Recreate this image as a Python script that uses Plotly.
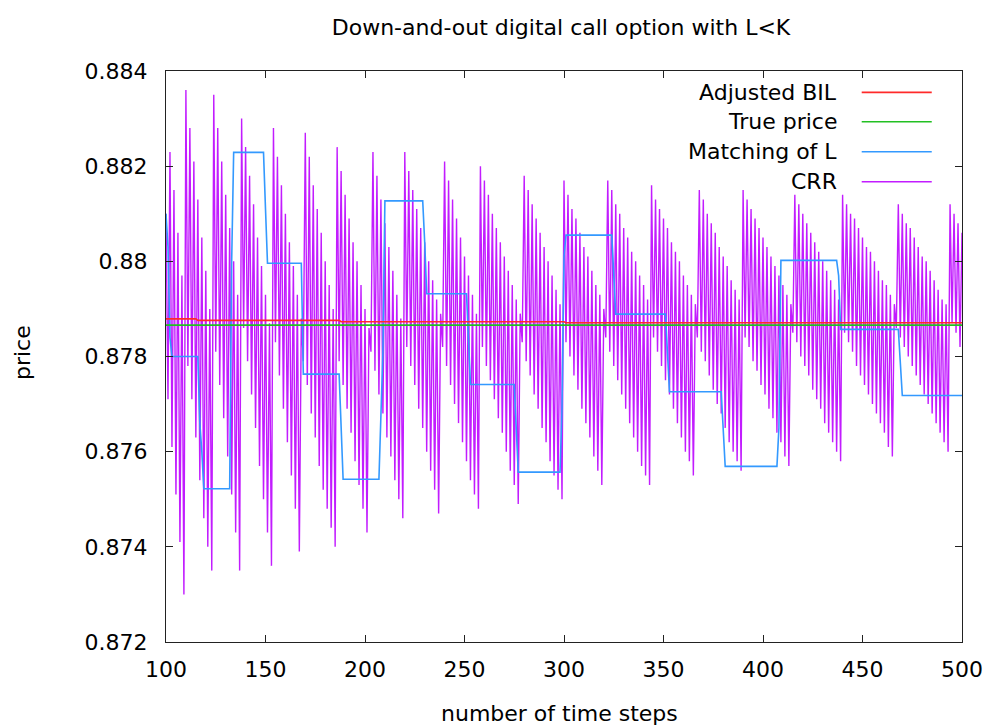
import plotly.graph_objects as go

# ---- data -------------------------------------------------------------
# number of time steps n = 100 ... 500
steps = list(range(100, 501))

# CRR binomial price for every n (even/odd oscillation inside each barrier cycle)
crr_price = [
    # 100-109
    0.8810, 0.8771, 0.8823, 0.8761, 0.8815, 0.8751, 0.8806, 0.8741, 0.8797, 0.8730,
    # 110-123
    0.8836, 0.8778, 0.8828, 0.8771, 0.8821, 0.8763, 0.8813, 0.8754, 0.8805, 0.8746,
    0.8798, 0.8740, 0.8790, 0.8735,
    # 124-137
    0.8835, 0.8781, 0.8828, 0.8774, 0.8821, 0.8767, 0.8814, 0.8759, 0.8807, 0.8751,
    0.8800, 0.8743, 0.8793, 0.8735,
    # 138-153
    0.8830, 0.8786, 0.8824, 0.8779, 0.8818, 0.8772, 0.8812, 0.8765, 0.8805, 0.8757,
    0.8799, 0.8750, 0.8793, 0.8743, 0.8787, 0.8736,
    # 154-168
    0.8828, 0.8783, 0.8822, 0.8776, 0.8816, 0.8769, 0.8810, 0.8762, 0.8804, 0.8755,
    0.8799, 0.8748, 0.8793, 0.8739, 0.8788,
    # 169-185
    0.8779, 0.8827, 0.8774, 0.8822, 0.8768, 0.8816, 0.8763, 0.8811, 0.8757, 0.8806,
    0.8752, 0.8800, 0.8748, 0.8795, 0.8744, 0.8790, 0.8740,
    # 186-202
    0.8824, 0.8779, 0.8819, 0.8774, 0.8814, 0.8769, 0.8809, 0.8764, 0.8804, 0.8758,
    0.8800, 0.8753, 0.8795, 0.8748, 0.8790, 0.8743, 0.8786,
    # 203-219
    0.8781, 0.8823, 0.8777, 0.8818, 0.8772, 0.8813, 0.8768, 0.8808, 0.8763, 0.8803,
    0.8759, 0.8798, 0.8754, 0.8793, 0.8750, 0.8788, 0.8746,
    # 220-238
    0.8823, 0.8782, 0.8819, 0.8778, 0.8815, 0.8774, 0.8811, 0.8769, 0.8807, 0.8765,
    0.8804, 0.8760, 0.8800, 0.8756, 0.8796, 0.8752, 0.8792, 0.8747, 0.8789,
    # 239-257
    0.8782, 0.8821, 0.8778, 0.8817, 0.8774, 0.8813, 0.8770, 0.8809, 0.8766, 0.8805,
    0.8762, 0.8801, 0.8758, 0.8797, 0.8754, 0.8793, 0.8751, 0.8789, 0.8748,
    # 258-278
    0.8820, 0.8782, 0.8817, 0.8778, 0.8814, 0.8775, 0.8810, 0.8771, 0.8807, 0.8767,
    0.8804, 0.8764, 0.8801, 0.8760, 0.8798, 0.8756, 0.8795, 0.8753, 0.8792, 0.8749,
    0.8789,
    # 279-299
    0.8783, 0.8818, 0.8779, 0.8815, 0.8776, 0.8812, 0.8772, 0.8809, 0.8769, 0.8806,
    0.8765, 0.8803, 0.8762, 0.8800, 0.8758, 0.8797, 0.8755, 0.8794, 0.8752, 0.8791,
    0.8750,
    # 300-320
    0.8817, 0.8783, 0.8814, 0.8780, 0.8811, 0.8776, 0.8809, 0.8773, 0.8806, 0.8769,
    0.8803, 0.8766, 0.8801, 0.8763, 0.8798, 0.8759, 0.8795, 0.8756, 0.8793, 0.8753,
    0.8790,
    # 321-343
    0.8784, 0.8817, 0.8781, 0.8815, 0.8778, 0.8812, 0.8775, 0.8810, 0.8772, 0.8807,
    0.8769, 0.8805, 0.8766, 0.8802, 0.8763, 0.8800, 0.8760, 0.8797, 0.8757, 0.8795,
    0.8755, 0.8792, 0.8753,
    # 344-366
    0.8816, 0.8784, 0.8813, 0.8781, 0.8811, 0.8778, 0.8809, 0.8775, 0.8807, 0.8772,
    0.8804, 0.8769, 0.8802, 0.8766, 0.8800, 0.8763, 0.8797, 0.8760, 0.8795, 0.8758,
    0.8793, 0.8755, 0.8791,
    # 367-389
    0.8784, 0.8815, 0.8781, 0.8813, 0.8779, 0.8810, 0.8776, 0.8808, 0.8773, 0.8806,
    0.8770, 0.8803, 0.8768, 0.8801, 0.8765, 0.8799, 0.8762, 0.8796, 0.8760, 0.8794,
    0.8758, 0.8792, 0.8756,
    # 390-414
    0.8815, 0.8784, 0.8813, 0.8782, 0.8811, 0.8779, 0.8809, 0.8777, 0.8807, 0.8774,
    0.8805, 0.8772, 0.8803, 0.8769, 0.8801, 0.8767, 0.8799, 0.8764, 0.8797, 0.8762,
    0.8795, 0.8759, 0.8793, 0.8757, 0.8791,
    # 415-439
    0.8785, 0.8814, 0.8783, 0.8812, 0.8780, 0.8810, 0.8778, 0.8808, 0.8776, 0.8806,
    0.8773, 0.8804, 0.8771, 0.8802, 0.8769, 0.8800, 0.8766, 0.8798, 0.8764, 0.8796,
    0.8762, 0.8794, 0.8760, 0.8792, 0.8758,
    # 440-466
    0.8814, 0.8785, 0.8812, 0.8783, 0.8810, 0.8781, 0.8809, 0.8778, 0.8807, 0.8776,
    0.8805, 0.8774, 0.8803, 0.8772, 0.8802, 0.8770, 0.8800, 0.8768, 0.8798, 0.8766,
    0.8796, 0.8764, 0.8795, 0.8761, 0.8793, 0.8759, 0.8791,
    # 467-493
    0.8786, 0.8812, 0.8784, 0.8810, 0.8782, 0.8808, 0.8780, 0.8807, 0.8778, 0.8805,
    0.8776, 0.8803, 0.8774, 0.8801, 0.8772, 0.8800, 0.8770, 0.8798, 0.8768, 0.8796,
    0.8766, 0.8794, 0.8764, 0.8792, 0.8762, 0.8791, 0.8760,
    # 494-500
    0.8812, 0.8787, 0.8810, 0.8785, 0.8808, 0.8782, 0.8806,
]

# "Matching of L": piecewise constant price, listed at the ends of each level
matching_steps = [100, 101, 102, 103, 116, 117, 118, 119, 132, 133, 134, 149, 150, 151,
                  168, 169, 187, 188, 189, 207, 208, 209, 210, 229, 230, 231, 251, 252,
                  253, 275, 276, 277, 298, 299, 300, 301, 324, 325, 326, 351, 352, 353,
                  379, 380, 381, 407, 408, 409, 437, 438, 439, 468, 469, 470, 500]
matching_price = [0.8810, 0.8803, 0.8784, 0.8780, 0.8780, 0.8766, 0.8760, 0.87522,
                  0.87522, 0.8800, 0.88229, 0.88229, 0.8811, 0.87996, 0.87996, 0.87763,
                  0.87763, 0.8765, 0.87542, 0.87542, 0.8769, 0.8781, 0.88127, 0.88127,
                  0.8804, 0.87932, 0.87932, 0.8784, 0.87741, 0.87741, 0.8765, 0.87557,
                  0.87557, 0.8769, 0.8801, 0.88055, 0.88055, 0.8797, 0.87889, 0.87889,
                  0.8781, 0.87726, 0.87726, 0.8765, 0.87569, 0.87569, 0.8765, 0.88002,
                  0.88002, 0.8797, 0.87857, 0.87857, 0.8779, 0.87718, 0.87718]

# "Adjusted BIL"
bil_steps = [100, 115, 116, 187, 188, 300, 301, 500]
bil_price = [0.87879, 0.87879, 0.87876, 0.87876, 0.87873, 0.87873, 0.87871, 0.87871]

# "True price"
true_steps = [100, 500]
true_price = [0.87866, 0.87866]

series_names = ["Adjusted BIL", "True price", "Matching of L", "CRR"]
series_colors = ["#ff2a2a", "#22c022", "#3399ff", "#c21cff"]

y_ticks = [0.872, 0.874, 0.876, 0.878, 0.880, 0.882, 0.884]
y_tick_text = ["0.872", "0.874", "0.876", "0.878", "0.88", "0.882", "0.884"]
x_ticks = [100, 150, 200, 250, 300, 350, 400, 450, 500]

FONT = "DejaVu Sans"
FSIZE = 22

# ---- figure -----------------------------------------------------------
fig = go.Figure()

fig.add_trace(go.Scatter(x=steps, y=crr_price, mode="lines", name=series_names[3],
                         line=dict(color=series_colors[3], width=1.4)))
fig.add_trace(go.Scatter(x=matching_steps, y=matching_price, mode="lines",
                         name=series_names[2],
                         line=dict(color=series_colors[2], width=1.6)))
fig.add_trace(go.Scatter(x=true_steps, y=true_price, mode="lines", name=series_names[1],
                         line=dict(color=series_colors[1], width=1.6)))
fig.add_trace(go.Scatter(x=bil_steps, y=bil_price, mode="lines", name=series_names[0],
                         line=dict(color=series_colors[0], width=1.6)))

# key drawn gnuplot style: right-aligned labels followed by a line sample
key_rows = [0.9625, 0.911, 0.8585, 0.806]
annotations = []
shapes = []
for name, color, ky in zip(series_names, series_colors, key_rows):
    annotations.append(dict(text=name, xref="paper", yref="paper", x=0.845, y=ky,
                            xanchor="right", yanchor="middle", showarrow=False,
                            font=dict(family=FONT, size=FSIZE, color="#000")))
    shapes.append(dict(type="line", xref="paper", yref="paper", x0=0.874, x1=0.962,
                       y0=ky, y1=ky, line=dict(color=color, width=1.6)))

annotations.append(dict(text="price", xref="paper", yref="paper", x=0, y=0.506,
                        xshift=-144, textangle=-90, xanchor="center", yanchor="middle",
                        showarrow=False, font=dict(family=FONT, size=FSIZE, color="#000")))
annotations.append(dict(text="number of time steps", xref="paper", yref="paper",
                        x=0.494, y=0, yshift=-71, xanchor="center", yanchor="middle",
                        showarrow=False, font=dict(family=FONT, size=FSIZE, color="#000")))

axis_common = dict(showgrid=False, zeroline=False, showline=True, linecolor="#222",
                   linewidth=1.2, mirror="ticks", ticks="inside", ticklen=7,
                   tickcolor="#222", tickwidth=1.2, automargin=False,
                   tickfont=dict(family=FONT, size=FSIZE, color="#000"))

fig.update_layout(
    width=986, height=726,
    margin=dict(l=166, r=24, t=71, b=84),
    paper_bgcolor="white", plot_bgcolor="white",
    showlegend=False,
    title=dict(text="Down-and-out digital call option with L<K", x=0.569, xanchor="center",
               y=0.963, yanchor="middle", yref="container",
               font=dict(family=FONT, size=FSIZE, color="#000")),
    xaxis=dict(range=[100, 500], tickvals=x_ticks, ticklabelstandoff=7, **axis_common),
    yaxis=dict(range=[0.872, 0.884], tickvals=y_ticks, ticktext=y_tick_text,
               ticklabelstandoff=13, **axis_common),
    annotations=annotations,
    shapes=shapes,
)

fig.write_html("out.html")
